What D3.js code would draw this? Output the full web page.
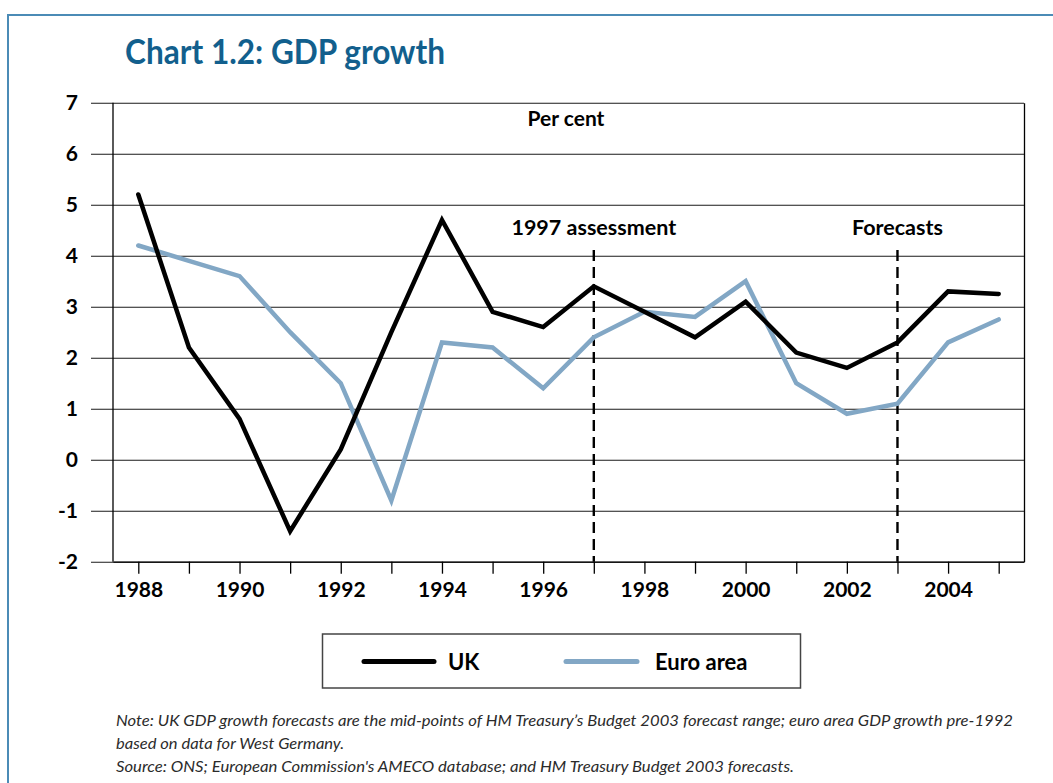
<!DOCTYPE html>
<html>
<head>
<meta charset="utf-8">
<script src="https://cdn.jsdelivr.net/npm/d3@7"></script>
<style>
  html, body { margin: 0; padding: 0; background: #fff; }
  svg { display: block; }
  text { font-family: Lato, "Open Sans", sans-serif; }
</style>
</head>
<body>
<script>
// GDP growth, per cent, 1988-2005
const years = [1988, 1989, 1990, 1991, 1992, 1993, 1994, 1995, 1996, 1997,
               1998, 1999, 2000, 2001, 2002, 2003, 2004, 2005];
const ukGrowth = [5.2, 2.2, 0.8, -1.4, 0.2, 2.5, 4.7, 2.9, 2.6, 3.4,
                  2.9, 2.4, 3.1, 2.1, 1.8, 2.3, 3.3, 3.25];
const euroGrowth = [4.2, 3.9, 3.6, 2.5, 1.5, -0.8, 2.3, 2.2, 1.4, 2.4,
                    2.9, 2.8, 3.5, 1.5, 0.9, 1.1, 2.3, 2.75];
const yTicks = [-2, -1, 0, 1, 2, 3, 4, 5, 6, 7];
const xLabelYears = [1988, 1990, 1992, 1994, 1996, 1998, 2000, 2002, 2004];
const markers = [
  { year: 1997, label: "1997 assessment" },
  { year: 2003, label: "Forecasts" }
];
const seriesNames = ["UK", "Euro area"];
const noteLines = [
  "Note: UK GDP growth forecasts are the mid-points of HM Treasury\u2019s Budget 2003 forecast range; euro area GDP growth pre-1992",
  "based on data for West Germany.",
  "Source: ONS; European Commission's AMECO database; and HM Treasury Budget 2003 forecasts."
];

const W = 1053, H = 783;
const plot = { left: 113, right: 1024, top: 102.7, bottom: 561.7 };
const ukColor = "#000000";
const euroColor = "#82a7c5";
const titleColor = "#125f8d";

const svg = d3.select("body").append("svg")
  .attr("width", W).attr("height", H);

// page frame
svg.append("path")
  .attr("d", `M8,${H} V15 H${W}`)
  .attr("fill", "none")
  .attr("stroke", "#4b8bb6")
  .attr("stroke-width", 2);

// title
svg.append("text")
  .attr("x", 125).attr("y", 64)
  .attr("font-size", 34).attr("font-weight", 700)
  .attr("fill", titleColor)
  .attr("textLength", 320).attr("lengthAdjust", "spacingAndGlyphs")
  .text("Chart 1.2: GDP growth");

const x = d3.scaleLinear().domain([1987.5, 2005.5]).range([plot.left, plot.right]);
const y = d3.scaleLinear().domain([-2, 7]).range([plot.bottom, plot.top]);

// y axis: gridlines run from the tick stub left of the frame to the right border
const yAxis = d3.axisLeft(y)
  .tickValues(yTicks)
  .tickSizeInner(plot.right - 91)
  .tickSizeOuter(0)
  .tickPadding(13)
  .tickFormat(d => String(d));
const gy = svg.append("g")
  .attr("transform", `translate(${plot.right},0)`)
  .call(yAxis);
gy.selectAll(".tick line").attr("stroke", "#1a1a1a").attr("stroke-width", 1.1);
gy.select(".domain").attr("stroke", "#000").attr("stroke-width", 1.3);
gy.selectAll(".tick text")
  .attr("font-size", 21).attr("font-weight", 700).attr("fill", "#000")
  .attr("font-family", "Lato, sans-serif");

// left frame line
svg.append("line")
  .attr("x1", plot.left).attr("x2", plot.left)
  .attr("y1", plot.top).attr("y2", plot.bottom)
  .attr("stroke", "#000").attr("stroke-width", 1.3);

// x axis
const xAxis = d3.axisBottom(x)
  .tickValues(years)
  .tickSizeInner(12)
  .tickSizeOuter(0)
  .tickPadding(8)
  .tickFormat(d => xLabelYears.includes(d) ? String(d) : "");
const gx = svg.append("g")
  .attr("transform", `translate(0,${plot.bottom})`)
  .call(xAxis);
gx.select(".domain").attr("stroke", "#000").attr("stroke-width", 1.3);
gx.selectAll(".tick line").attr("stroke", "#000").attr("stroke-width", 1.3);
gx.selectAll(".tick text")
  .attr("font-size", 21).attr("font-weight", 700).attr("fill", "#000")
  .attr("font-family", "Lato, sans-serif");

// "Per cent" unit label
svg.append("text")
  .attr("x", 566).attr("y", 126)
  .attr("text-anchor", "middle")
  .attr("font-size", 21).attr("font-weight", 700)
  .text("Per cent");

// vertical marker lines and their captions
markers.forEach(m => {
  svg.append("line")
    .attr("x1", x(m.year)).attr("x2", x(m.year))
    .attr("y1", 250).attr("y2", plot.bottom)
    .attr("stroke", "#000").attr("stroke-width", 2.4)
    .attr("stroke-dasharray", "11,6");
  svg.append("text")
    .attr("x", x(m.year)).attr("y", 235)
    .attr("text-anchor", "middle")
    .attr("font-size", 21.5).attr("font-weight", 700)
    .text(m.label);
});

// series lines
const line = d3.line()
  .x((d, i) => x(years[i]))
  .y(d => y(d));

svg.append("path")
  .datum(euroGrowth)
  .attr("d", line)
  .attr("fill", "none")
  .attr("stroke", euroColor)
  .attr("stroke-width", 4.5)
  .attr("stroke-linejoin", "miter")
  .attr("stroke-linecap", "round");

svg.append("path")
  .datum(ukGrowth)
  .attr("d", line)
  .attr("fill", "none")
  .attr("stroke", ukColor)
  .attr("stroke-width", 4.5)
  .attr("stroke-linejoin", "miter")
  .attr("stroke-linecap", "round");

// legend
const legend = svg.append("g");
legend.append("rect")
  .attr("x", 322.5).attr("y", 634)
  .attr("width", 478).attr("height", 54)
  .attr("fill", "#fff")
  .attr("stroke", "#444").attr("stroke-width", 1.5);
const legendItems = [
  { name: seriesNames[0], color: ukColor, x1: 364, x2: 434, tx: 448 },
  { name: seriesNames[1], color: euroColor, x1: 566, x2: 637, tx: 655 }
];
legendItems.forEach(it => {
  legend.append("line")
    .attr("x1", it.x1).attr("x2", it.x2)
    .attr("y1", 661.5).attr("y2", 661.5)
    .attr("stroke", it.color).attr("stroke-width", 5)
    .attr("stroke-linecap", "round");
  legend.append("text")
    .attr("x", it.tx).attr("y", 670)
    .attr("font-size", 22).attr("font-weight", 700)
    .text(it.name);
});

// notes
const noteWidths = [897, 228, 678];
noteLines.forEach((t, i) => {
  svg.append("text")
    .attr("x", 116).attr("y", 726 + i * 23)
    .attr("font-size", 15).attr("font-style", "italic")
    .attr("fill", "#2b2b2b")
    .attr("textLength", noteWidths[i]).attr("lengthAdjust", "spacingAndGlyphs")
    .text(t);
});
</script>
</body>
</html>
